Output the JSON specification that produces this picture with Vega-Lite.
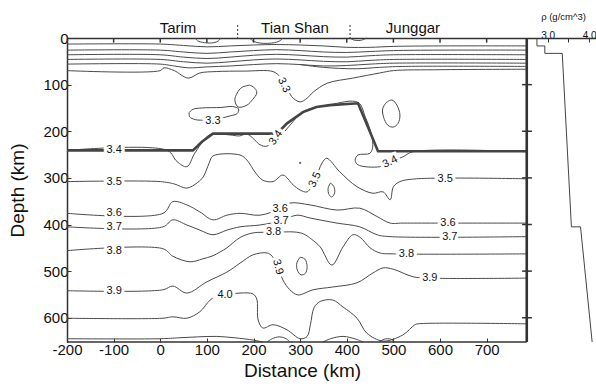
{
 "$schema": "https://vega.github.io/schema/vega-lite/v6.json",
 "width": 529,
 "height": 304,
 "autosize": {"type": "none"},
 "padding": {"left": 67, "top": 38, "right": 0, "bottom": 44},
 "config": {"view": {"stroke": null}, "font": "Liberation Sans"},
 "datasets": {
  "contours": [
   {"c":"c1","x":-200,"y":13},{"c":"c1","x":0,"y":13},{"c":"c1","x":50,"y":16},{"c":"c1","x":100,"y":19},{"c":"c1","x":150,"y":17},{"c":"c1","x":200,"y":15},{"c":"c1","x":250,"y":14},{"c":"c1","x":300,"y":15},{"c":"c1","x":350,"y":17},{"c":"c1","x":400,"y":20},{"c":"c1","x":450,"y":20},{"c":"c1","x":500,"y":18},{"c":"c1","x":600,"y":17},{"c":"c1","x":786,"y":17},
   {"c":"c2","x":-200,"y":26},{"c":"c2","x":0,"y":26},{"c":"c2","x":50,"y":30},{"c":"c2","x":100,"y":33},{"c":"c2","x":150,"y":30},{"c":"c2","x":200,"y":27},{"c":"c2","x":250,"y":25},{"c":"c2","x":300,"y":27},{"c":"c2","x":350,"y":30},{"c":"c2","x":400,"y":31},{"c":"c2","x":450,"y":29},{"c":"c2","x":500,"y":27},{"c":"c2","x":600,"y":26},{"c":"c2","x":786,"y":26},
   {"c":"c3","x":-200,"y":36},{"c":"c3","x":0,"y":36},{"c":"c3","x":50,"y":41},{"c":"c3","x":100,"y":44},{"c":"c3","x":150,"y":41},{"c":"c3","x":200,"y":37},{"c":"c3","x":250,"y":35},{"c":"c3","x":300,"y":37},{"c":"c3","x":350,"y":40},{"c":"c3","x":400,"y":41},{"c":"c3","x":450,"y":38},{"c":"c3","x":500,"y":36},{"c":"c3","x":786,"y":36},
   {"c":"c4","x":-200,"y":46},{"c":"c4","x":0,"y":46},{"c":"c4","x":50,"y":51},{"c":"c4","x":100,"y":54},{"c":"c4","x":150,"y":51},{"c":"c4","x":200,"y":47},{"c":"c4","x":250,"y":45},{"c":"c4","x":300,"y":47},{"c":"c4","x":350,"y":50},{"c":"c4","x":400,"y":51},{"c":"c4","x":450,"y":48},{"c":"c4","x":500,"y":46},{"c":"c4","x":786,"y":46},
   {"c":"c5","x":-200,"y":56},{"c":"c5","x":0,"y":56},{"c":"c5","x":30,"y":60},{"c":"c5","x":60,"y":64},{"c":"c5","x":100,"y":62},{"c":"c5","x":150,"y":60},{"c":"c5","x":200,"y":57},{"c":"c5","x":250,"y":55},{"c":"c5","x":300,"y":57},{"c":"c5","x":350,"y":60},{"c":"c5","x":400,"y":59},{"c":"c5","x":450,"y":56},{"c":"c5","x":500,"y":54},{"c":"c5","x":786,"y":54},
   {"c":"c6","x":300,"y":57},{"c":"c6","x":350,"y":63},{"c":"c6","x":420,"y":66},{"c":"c6","x":470,"y":63},{"c":"c6","x":520,"y":61},{"c":"c6","x":786,"y":61},
   {"c":"c33","x":-200,"y":70},{"c":"c33","x":0,"y":70},{"c":"c33","x":8,"y":64},{"c":"c33","x":30,"y":70},{"c":"c33","x":60,"y":86},{"c":"c33","x":85,"y":75},{"c":"c33","x":120,"y":72},{"c":"c33","x":180,"y":71},{"c":"c33","x":242,"y":72},{"c":"c33","x":257,"y":83},{"c":"c33","x":270,"y":100},{"c":"c33","x":282,"y":126},{"c":"c33","x":300,"y":137},{"c":"c33","x":315,"y":129},{"c":"c33","x":328,"y":116},{"c":"c33","x":358,"y":97},{"c":"c33","x":413,"y":86},{"c":"c33","x":471,"y":75},{"c":"c33","x":500,"y":70},{"c":"c33","x":600,"y":68},{"c":"c33","x":786,"y":67},
   {"c":"t1","x":75,"y":0},{"c":"t1","x":80,"y":6},{"c":"t1","x":95,"y":10},{"c":"t1","x":115,"y":10},{"c":"t1","x":125,"y":6},{"c":"t1","x":130,"y":0},
   {"c":"t2","x":192,"y":0},{"c":"t2","x":198,"y":6},{"c":"t2","x":215,"y":11},{"c":"t2","x":245,"y":10},{"c":"t2","x":258,"y":5},{"c":"t2","x":263,"y":0},
   {"c":"t3","x":407,"y":0},{"c":"t3","x":414,"y":4},{"c":"t3","x":430,"y":5},{"c":"t3","x":443,"y":0},
   {"c":"o1","x":192,"y":101},{"c":"o1","x":203,"y":108},{"c":"o1","x":207,"y":118},{"c":"o1","x":198,"y":132},{"c":"o1","x":186,"y":144},{"c":"o1","x":167,"y":148},{"c":"o1","x":160,"y":133},{"c":"o1","x":165,"y":118},{"c":"o1","x":175,"y":106},{"c":"o1","x":192,"y":101},
   {"c":"o2","x":62,"y":160},{"c":"o2","x":70,"y":153},{"c":"o2","x":90,"y":150},{"c":"o2","x":130,"y":149},{"c":"o2","x":155,"y":147},{"c":"o2","x":168,"y":152},{"c":"o2","x":165,"y":162},{"c":"o2","x":150,"y":167},{"c":"o2","x":130,"y":172},{"c":"o2","x":100,"y":176},{"c":"o2","x":75,"y":175},{"c":"o2","x":63,"y":169},{"c":"o2","x":62,"y":160},
   {"c":"o3","x":484,"y":139},{"c":"o3","x":497,"y":133},{"c":"o3","x":508,"y":145},{"c":"o3","x":514,"y":165},{"c":"o3","x":510,"y":183},{"c":"o3","x":500,"y":191},{"c":"o3","x":488,"y":187},{"c":"o3","x":479,"y":170},{"c":"o3","x":477,"y":152},{"c":"o3","x":484,"y":139},
   {"c":"o4","x":365,"y":311},{"c":"o4","x":372,"y":318},{"c":"o4","x":374,"y":332},{"c":"o4","x":368,"y":341},{"c":"o4","x":362,"y":336},{"c":"o4","x":360,"y":322},{"c":"o4","x":365,"y":311},
   {"c":"o5","x":300,"y":470},{"c":"o5","x":310,"y":474},{"c":"o5","x":315,"y":490},{"c":"o5","x":311,"y":505},{"c":"o5","x":302,"y":508},{"c":"o5","x":294,"y":498},{"c":"o5","x":293,"y":482},{"c":"o5","x":300,"y":470},
   {"c":"c34","x":-200,"y":241},{"c":"c34","x":15,"y":241},{"c":"c34","x":36,"y":265},{"c":"c34","x":57,"y":276},{"c":"c34","x":74,"y":247},{"c":"c34","x":100,"y":212},{"c":"c34","x":111,"y":206},{"c":"c34","x":150,"y":208},{"c":"c34","x":170,"y":210},{"c":"c34","x":186,"y":206},{"c":"c34","x":203,"y":219},{"c":"c34","x":214,"y":229},{"c":"c34","x":229,"y":232},{"c":"c34","x":248,"y":214},{"c":"c34","x":263,"y":204},{"c":"c34","x":280,"y":185},{"c":"c34","x":306,"y":158},{"c":"c34","x":364,"y":143},{"c":"c34","x":424,"y":138},{"c":"c34","x":440,"y":170},{"c":"c34","x":450,"y":197},{"c":"c34","x":456,"y":229},{"c":"c34","x":450,"y":247},{"c":"c34","x":424,"y":251},{"c":"c34","x":418,"y":262},{"c":"c34","x":424,"y":272},{"c":"c34","x":471,"y":276},{"c":"c34","x":493,"y":266},{"c":"c34","x":520,"y":255},{"c":"c34","x":542,"y":244},{"c":"c34","x":786,"y":244},
   {"c":"c35","x":-200,"y":308},{"c":"c35","x":0,"y":308},{"c":"c35","x":30,"y":313},{"c":"c35","x":57,"y":322},{"c":"c35","x":80,"y":310},{"c":"c35","x":92,"y":298},{"c":"c35","x":105,"y":268},{"c":"c35","x":113,"y":253},{"c":"c35","x":171,"y":251},{"c":"c35","x":186,"y":262},{"c":"c35","x":205,"y":290},{"c":"c35","x":220,"y":305},{"c":"c35","x":242,"y":308},{"c":"c35","x":263,"y":294},{"c":"c35","x":285,"y":315},{"c":"c35","x":300,"y":326},{"c":"c35","x":315,"y":330},{"c":"c35","x":332,"y":304},{"c":"c35","x":347,"y":268},{"c":"c35","x":357,"y":258},{"c":"c35","x":385,"y":287},{"c":"c35","x":422,"y":319},{"c":"c35","x":456,"y":333},{"c":"c35","x":478,"y":330},{"c":"c35","x":493,"y":347},{"c":"c35","x":500,"y":319},{"c":"c35","x":514,"y":308},{"c":"c35","x":550,"y":302},{"c":"c35","x":786,"y":302},
   {"c":"c36","x":-200,"y":376},{"c":"c36","x":6,"y":376},{"c":"c36","x":27,"y":351},{"c":"c36","x":57,"y":358},{"c":"c36","x":85,"y":373},{"c":"c36","x":113,"y":390},{"c":"c36","x":143,"y":380},{"c":"c36","x":171,"y":376},{"c":"c36","x":214,"y":380},{"c":"c36","x":257,"y":366},{"c":"c36","x":278,"y":354},{"c":"c36","x":321,"y":358},{"c":"c36","x":379,"y":369},{"c":"c36","x":428,"y":365},{"c":"c36","x":465,"y":383},{"c":"c36","x":493,"y":397},{"c":"c36","x":520,"y":397},{"c":"c36","x":786,"y":397},
   {"c":"c37","x":-200,"y":405},{"c":"c37","x":6,"y":405},{"c":"c37","x":27,"y":390},{"c":"c37","x":57,"y":401},{"c":"c37","x":85,"y":412},{"c":"c37","x":113,"y":422},{"c":"c37","x":143,"y":412},{"c":"c37","x":171,"y":405},{"c":"c37","x":214,"y":401},{"c":"c37","x":259,"y":392},{"c":"c37","x":293,"y":380},{"c":"c37","x":321,"y":386},{"c":"c37","x":379,"y":397},{"c":"c37","x":428,"y":405},{"c":"c37","x":465,"y":422},{"c":"c37","x":493,"y":426},{"c":"c37","x":786,"y":426},
   {"c":"c38","x":-200,"y":456},{"c":"c38","x":6,"y":452},{"c":"c38","x":27,"y":468},{"c":"c38","x":64,"y":480},{"c":"c38","x":90,"y":474},{"c":"c38","x":113,"y":467},{"c":"c38","x":128,"y":459},{"c":"c38","x":143,"y":450},{"c":"c38","x":171,"y":428},{"c":"c38","x":199,"y":418},{"c":"c38","x":243,"y":417},{"c":"c38","x":287,"y":416},{"c":"c38","x":307,"y":420},{"c":"c38","x":325,"y":432},{"c":"c38","x":343,"y":448},{"c":"c38","x":368,"y":487},{"c":"c38","x":392,"y":448},{"c":"c38","x":413,"y":422},{"c":"c38","x":428,"y":427},{"c":"c38","x":450,"y":450},{"c":"c38","x":471,"y":461},{"c":"c38","x":500,"y":463},{"c":"c38","x":786,"y":463},
   {"c":"c39","x":-200,"y":542},{"c":"c39","x":6,"y":540},{"c":"c39","x":27,"y":532},{"c":"c39","x":57,"y":547},{"c":"c39","x":100,"y":523},{"c":"c39","x":143,"y":502},{"c":"c39","x":171,"y":483},{"c":"c39","x":199,"y":465},{"c":"c39","x":229,"y":461},{"c":"c39","x":240,"y":468},{"c":"c39","x":252,"y":491},{"c":"c39","x":263,"y":519},{"c":"c39","x":278,"y":540},{"c":"c39","x":295,"y":551},{"c":"c39","x":328,"y":540},{"c":"c39","x":370,"y":534},{"c":"c39","x":422,"y":525},{"c":"c39","x":456,"y":504},{"c":"c39","x":478,"y":493},{"c":"c39","x":500,"y":496},{"c":"c39","x":542,"y":512},{"c":"c39","x":578,"y":515},{"c":"c39","x":786,"y":515},
   {"c":"c40","x":-200,"y":601},{"c":"c40","x":6,"y":601},{"c":"c40","x":27,"y":598},{"c":"c40","x":57,"y":601},{"c":"c40","x":85,"y":587},{"c":"c40","x":107,"y":562},{"c":"c40","x":125,"y":551},{"c":"c40","x":139,"y":551},{"c":"c40","x":171,"y":547},{"c":"c40","x":199,"y":549},{"c":"c40","x":207,"y":560},{"c":"c40","x":210,"y":605},{"c":"c40","x":220,"y":622},{"c":"c40","x":242,"y":615},{"c":"c40","x":272,"y":626},{"c":"c40","x":300,"y":645},{"c":"c40","x":315,"y":640},{"c":"c40","x":322,"y":615},{"c":"c40","x":330,"y":578},{"c":"c40","x":343,"y":565},{"c":"c40","x":370,"y":562},{"c":"c40","x":392,"y":577},{"c":"c40","x":422,"y":601},{"c":"c40","x":443,"y":633},{"c":"c40","x":478,"y":650},{"c":"c40","x":520,"y":637},{"c":"c40","x":546,"y":615},{"c":"c40","x":553,"y":613},{"c":"c40","x":786,"y":613},
   {"c":"c41","x":-200,"y":645},{"c":"c41","x":0,"y":645},{"c":"c41","x":40,"y":643},{"c":"c41","x":80,"y":641},{"c":"c41","x":120,"y":640},{"c":"c41","x":160,"y":643},{"c":"c41","x":200,"y":648},{"c":"c41","x":220,"y":652},
   {"c":"b1","x":229,"y":652},{"c":"b1","x":240,"y":645},{"c":"b1","x":255,"y":641},{"c":"b1","x":270,"y":645},{"c":"b1","x":278,"y":652},
   {"c":"b2","x":349,"y":652},{"c":"b2","x":365,"y":645},{"c":"b2","x":392,"y":640},{"c":"b2","x":420,"y":646},{"c":"b2","x":435,"y":652},
   {"c":"b3","x":470,"y":652},{"c":"b3","x":480,"y":646},{"c":"b3","x":495,"y":646},{"c":"b3","x":502,"y":652}
  ],
  "thick": [
   {"x":-200,"y":241},{"x":70,"y":241},{"x":90,"y":222},{"x":113,"y":205},{"x":250,"y":205},{"x":272,"y":183},{"x":306,"y":159},{"x":335,"y":148},{"x":364,"y":144},{"x":424,"y":140},{"x":445,"y":190},{"x":467,"y":243},{"x":786,"y":243}
  ],
  "frame": [
   {"x":-200,"x2":786,"y":652,"y2":652},
   {"x":-100,"x2":-100,"y":0,"y2":10},{"x":0,"x2":0,"y":0,"y2":10},{"x":100,"x2":100,"y":0,"y2":10},{"x":200,"x2":200,"y":0,"y2":10},{"x":300,"x2":300,"y":0,"y2":10},{"x":400,"x2":400,"y":0,"y2":10},{"x":500,"x2":500,"y":0,"y2":10},{"x":600,"x2":600,"y":0,"y2":10},{"x":700,"x2":700,"y":0,"y2":10},
   {"x":776,"x2":797,"y":100,"y2":100},{"x":776,"x2":797,"y":200,"y2":200},{"x":776,"x2":797,"y":300,"y2":300},{"x":776,"x2":797,"y":400,"y2":400},{"x":776,"x2":797,"y":500,"y2":500},{"x":776,"x2":797,"y":600,"y2":600}
  ],
  "labels": [
   {"t":"3.4","x":-99,"y":241},{"t":"3.5","x":-99,"y":308},{"t":"3.5","x":611,"y":302},
   {"t":"3.6","x":-99,"y":376},{"t":"3.6","x":257,"y":366},{"t":"3.6","x":617,"y":397},
   {"t":"3.7","x":-99,"y":405},{"t":"3.7","x":259,"y":392},{"t":"3.7","x":621,"y":426},
   {"t":"3.8","x":-99,"y":456},{"t":"3.8","x":243,"y":417},{"t":"3.8","x":528,"y":463},
   {"t":"3.9","x":-99,"y":542},{"t":"3.9","x":578,"y":515},
   {"t":"4.0","x":139,"y":551},{"t":"3.3","x":113,"y":177}
  ],
  "density": [
   {"rho":2.74,"y":0},{"rho":2.74,"y":17},{"rho":2.93,"y":17},{"rho":2.93,"y":33},{"rho":3.35,"y":33},{"rho":3.57,"y":405},{"rho":3.79,"y":405},{"rho":4.07,"y":652}
  ]
 },
 "resolve": {"scale": {"x": "independent"}},
 "layer": [
  {
   "encoding": {
    "x": {"field": "x", "type": "quantitative",
     "scale": {"domain": [-200, 934.5], "nice": false, "zero": false},
     "axis": {"orient": "bottom", "values": [-200,-100,0,100,200,300,400,500,600,700], "labelExpr": "'' + datum.value", "domain": false, "grid": false,
      "tickSize": -4, "tickColor": "#333", "labelFontSize": 15, "labelColor": "#111", "labelFlush": false, "labelPadding": 4, "labelOverlap": false,
      "title": "Distance (km)", "titleFontSize": 19, "titleFontWeight": "normal", "titleColor": "#111", "titleX": 235, "titlePadding": 4}},
    "y": {"field": "y", "type": "quantitative",
     "scale": {"domain": [0, 652], "reverse": true, "nice": false, "zero": false},
     "axis": {"values": [0,100,200,300,400,500,600], "grid": false, "domainColor": "#333", "domainWidth": 1.5,
      "tickSize": -4, "tickColor": "#333", "labelFontSize": 15, "labelColor": "#111", "labelFlush": false, "labelPadding": 3, "labelOverlap": false,
      "title": "Depth (km)", "titleFontSize": 19, "titleFontWeight": "normal", "titleColor": "#111", "titlePadding": 15}}
   },
   "layer": [
    {"data": {"name": "contours"}, "transform": [{"window": [{"op": "row_number", "as": "i"}]}],
     "mark": {"type": "line", "color": "#4a4a4a", "strokeWidth": 1, "interpolate": "catmull-rom"},
     "encoding": {"detail": {"field": "c"}, "order": {"field": "i", "type": "quantitative"}}},
    {"data": {"name": "thick"}, "mark": {"type": "line", "color": "#444", "strokeWidth": 2.6},
     "encoding": {}},
    {"data": {"name": "frame"}, "mark": {"type": "rule", "color": "#333", "strokeWidth": 1.5},
     "encoding": {"x2": {"field": "x2"}, "y2": {"field": "y2"}}},
    {"data": {"values": [{"x":786,"x2":786,"y":0,"y2":652}]}, "mark": {"type": "rule", "color": "#333", "strokeWidth": 2.6},
     "encoding": {"x2": {"field": "x2"}, "y2": {"field": "y2"}}},
    {"data": {"values": [{"x":166,"x2":166,"y":-28,"y2":0},{"x":407,"x2":407,"y":-28,"y2":0}]}, "mark": {"type": "rule", "color": "#333", "strokeWidth": 1, "strokeDash": [2, 2]},
     "encoding": {"x2": {"field": "x2"}, "y2": {"field": "y2"}}},
    {"data": {"values": [{"t":"Tarim","x":38,"y":-22},{"t":"Tian Shan","x":289,"y":-22},{"t":"Junggar","x":542,"y":-22}]},
     "mark": {"type": "text", "fontSize": 15, "color": "#111", "baseline": "middle"},
     "encoding": {"text": {"field": "t"}}},
    {"data": {"values": [{"x":300,"y":268}]}, "mark": {"type": "point", "filled": true, "color": "#222", "size": 5}, "encoding": {}},
    {"data": {"name": "labels"},
     "layer": [
      {"mark": {"type": "text", "fontSize": 11, "color": "white", "stroke": "white", "strokeWidth": 6, "baseline": "middle"}, "encoding": {"text": {"field": "t"}}},
      {"mark": {"type": "text", "fontSize": 11, "color": "#111", "baseline": "middle"}, "encoding": {"text": {"field": "t"}}}
     ]},
    {"data": {"values": [{"t":"3.3","x":265,"y":101}]},
     "layer": [
      {"mark": {"type": "text", "fontSize": 11, "angle": 65, "color": "white", "stroke": "white", "strokeWidth": 6, "baseline": "middle"}, "encoding": {"text": {"field": "t"}}},
      {"mark": {"type": "text", "fontSize": 11, "angle": 65, "color": "#111", "baseline": "middle"}, "encoding": {"text": {"field": "t"}}}
     ]},
    {"data": {"values": [{"t":"3.4","x":248,"y":214}]},
     "layer": [
      {"mark": {"type": "text", "fontSize": 11, "angle": -55, "color": "white", "stroke": "white", "strokeWidth": 6, "baseline": "middle"}, "encoding": {"text": {"field": "t"}}},
      {"mark": {"type": "text", "fontSize": 11, "angle": -55, "color": "#111", "baseline": "middle"}, "encoding": {"text": {"field": "t"}}}
     ]},
    {"data": {"values": [{"t":"3.4","x":493,"y":266}]},
     "layer": [
      {"mark": {"type": "text", "fontSize": 11, "angle": -25, "color": "white", "stroke": "white", "strokeWidth": 6, "baseline": "middle"}, "encoding": {"text": {"field": "t"}}},
      {"mark": {"type": "text", "fontSize": 11, "angle": -25, "color": "#111", "baseline": "middle"}, "encoding": {"text": {"field": "t"}}}
     ]},
    {"data": {"values": [{"t":"3.5","x":332,"y":304}]},
     "layer": [
      {"mark": {"type": "text", "fontSize": 11, "angle": -65, "color": "white", "stroke": "white", "strokeWidth": 6, "baseline": "middle"}, "encoding": {"text": {"field": "t"}}},
      {"mark": {"type": "text", "fontSize": 11, "angle": -65, "color": "#111", "baseline": "middle"}, "encoding": {"text": {"field": "t"}}}
     ]},
    {"data": {"values": [{"t":"3.9","x":252,"y":491}]},
     "layer": [
      {"mark": {"type": "text", "fontSize": 11, "angle": 75, "color": "white", "stroke": "white", "strokeWidth": 6, "baseline": "middle"}, "encoding": {"text": {"field": "t"}}},
      {"mark": {"type": "text", "fontSize": 11, "angle": 75, "color": "#111", "baseline": "middle"}, "encoding": {"text": {"field": "t"}}}
     ]}
   ]
  },
  {
   "data": {"name": "density"},
   "mark": {"type": "line", "color": "#444", "strokeWidth": 1},
   "encoding": {
    "x": {"field": "rho", "type": "quantitative",
     "scale": {"domain": [-8.584, 4.163], "nice": false, "zero": false},
     "axis": {"orient": "top", "values": [3, 3.5, 4], "labelExpr": "datum.value == 3.5 ? '' : format(datum.value, '.1f')",
      "grid": false, "domainColor": "#333", "domainWidth": 1.5, "tickSize": -4, "tickColor": "#333",
      "labelFontSize": 10, "labelColor": "#111", "labelFlush": false, "labelPadding": 2,
      "title": "ρ (g/cm^3)", "titleFontSize": 9.5, "titleFontWeight": "normal", "titleColor": "#111",
      "titleX": 496, "titleY": -22, "titleAlign": "center", "titleBaseline": "middle", "titleAngle": 0}},
    "y": {"field": "y", "type": "quantitative",
     "scale": {"domain": [0, 652], "reverse": true, "nice": false, "zero": false},
     "axis": {"values": [0,100,200,300,400,500,600], "grid": false, "domainColor": "#333", "domainWidth": 1.5,
      "tickSize": -4, "tickColor": "#333", "labelFontSize": 15, "labelColor": "#111", "labelFlush": false, "labelPadding": 3, "labelOverlap": false,
      "title": "Depth (km)", "titleFontSize": 19, "titleFontWeight": "normal", "titleColor": "#111", "titlePadding": 15}},
    "order": {"field": "y", "type": "quantitative"}
   }
  }
 ]
}
